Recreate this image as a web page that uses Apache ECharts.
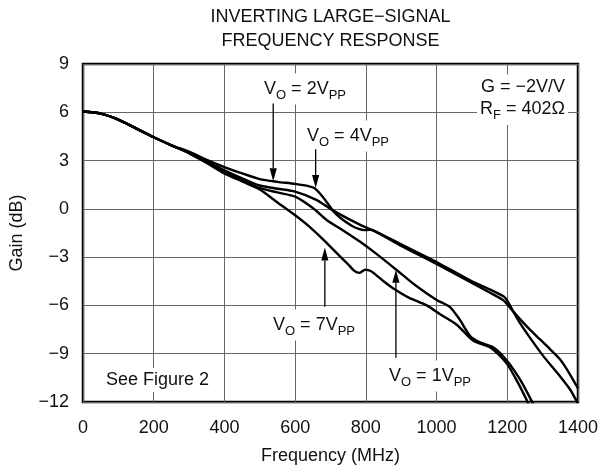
<!DOCTYPE html>
<html><head><meta charset="utf-8">
<script src="https://cdn.jsdelivr.net/npm/echarts@6/dist/echarts.min.js"></script>
<style>html,body{margin:0;padding:0;background:#fff}#c{width:610px;height:468px}</style>
</head><body><div id="c"></div>
<script>
// ---- data ----
const xTicks = [0, 200, 400, 600, 800, 1000, 1200, 1400];
const yTicks = [-12, -9, -6, -3, 0, 3, 6, 9];

const freq2 = [0,50,100,150,200,250,300,350,400,450,500,550,600,640,655,670,690,710,730,760,780,795,810,825,900,1000,1100,1150,1190,1210,1236,1264,1292,1320,1349,1375,1400];
const gain2 = [6.05,5.92,5.55,5.0,4.45,3.95,3.55,3.05,2.6,2.2,1.85,1.68,1.55,1.4,1.28,0.95,0.4,-0.2,-0.6,-1.05,-1.25,-1.32,-1.3,-1.38,-2.3,-3.42,-4.6,-5.2,-5.7,-6.2,-6.85,-7.5,-8.1,-8.7,-9.35,-10.2,-11.15];

const freq4 = [0,50,100,150,200,250,300,350,400,450,500,550,600,660,700,740,780,800,825,900,1000,1100,1150,1190,1200,1215,1236,1264,1302,1349,1380,1400];
const gain4 = [6.05,5.92,5.55,5.0,4.45,3.95,3.5,2.95,2.4,1.9,1.45,1.25,1.07,0.56,0.0,-0.5,-0.95,-1.15,-1.38,-2.2,-3.3,-4.5,-5.0,-5.45,-5.7,-6.3,-7.1,-8.0,-9.15,-10.4,-11.3,-12.1];

const freq1 = [0,50,100,150,200,250,300,350,400,450,500,550,600,650,689,740,783,830,887,940,1000,1038,1066,1095,1123,1160,1198,1236,1275];
const gain1 = [6.05,5.92,5.55,5.0,4.45,3.95,3.48,2.9,2.3,1.8,1.3,1.02,0.76,0.05,-0.69,-1.4,-2.03,-2.8,-3.8,-4.75,-5.66,-6.1,-6.9,-7.9,-8.3,-8.6,-9.4,-10.6,-12.2];

const freq7 = [0,50,100,150,200,250,300,350,400,450,500,550,600,640,684,720,750,767,782,798,815,850,878,920,972,1010,1057,1104,1151,1198,1230,1262];
const gain7 = [6.05,5.92,5.55,5.0,4.45,3.95,3.45,2.85,2.2,1.7,1.2,0.4,-0.4,-1.1,-2.0,-2.8,-3.45,-3.85,-3.98,-3.78,-3.88,-4.5,-4.95,-5.5,-6.0,-6.55,-7.2,-8.2,-8.6,-9.6,-10.8,-12.2];

// annotation arrows: [freq, gainFrom, gainTip]
const arrow2 = [538, 6.55, 1.72];
const arrow4 = [658, 3.70, 1.30];
const arrow7 = [684, -6.08, -2.40];
const arrow1 = [885, -9.25, -3.78];

// ---- chart ----
const FONT = '"Liberation Sans", Arial, Helvetica, sans-serif';
const INK = '#111';
const minus = v => (v < 0 ? '\u2212' + Math.abs(v) : String(v));
const pairs = (f, g) => f.map((x, i) => [x, g[i]]);

function curve(name, f, g) {
  return {
    name, type: 'line', data: pairs(f, g), showSymbol: false, symbol: 'none',
    smooth: 0.25, silent: true, clip: true,
    lineStyle: { color: '#000', width: 2.4 }
  };
}

const chart = echarts.init(document.getElementById('c'), null, { renderer: 'canvas' });

const rich = {
  n: { fontSize: 18, fontFamily: FONT, fill: INK },
  s: { fontSize: 13, fontFamily: FONT, fill: INK, padding: [12, 0, 0, 0] }
};
function vLabel(x, y, txt) {
  return { type: 'text', x, y, z: 10, silent: true,
    style: { text: txt, rich, align: 'left', verticalAlign: 'middle',
             backgroundColor: '#fff', padding: [3, 3, 3, 3] } };
}
function plain(x, y, txt, align, opts) {
  return Object.assign({ type: 'text', x, y, z: 10, silent: true,
    style: Object.assign({ text: txt, fontSize: 18, fontFamily: FONT, fill: INK,
      align: align, verticalAlign: 'middle' }, (opts || {}).style || {}) }, (opts || {}).el || {});
}

const option = {
  animation: false,
  backgroundColor: '#fff',
  grid: { left: 83, right: 32, top: 64, bottom: 66, show: true,
          borderColor: '#000', borderWidth: 2.5, backgroundColor: 'transparent' },
  xAxis: {
    type: 'value', min: xTicks[0], max: xTicks[xTicks.length - 1], interval: 200,
    axisLine: { show: false }, axisTick: { show: false },
    splitLine: { show: true, lineStyle: { color: '#666', width: 1 } },
    axisLabel: { fontSize: 18, fontFamily: FONT, color: INK, margin: 17, formatter: minus }
  },
  yAxis: {
    type: 'value', min: yTicks[0], max: yTicks[yTicks.length - 1], interval: 3,
    axisLine: { show: false }, axisTick: { show: false },
    splitLine: { show: true, lineStyle: { color: '#666', width: 1 } },
    axisLabel: { fontSize: 18, fontFamily: FONT, color: INK, margin: 14, formatter: minus }
  },
  series: [
    curve('VO = 2VPP', freq2, gain2),
    curve('VO = 4VPP', freq4, gain4),
    curve('VO = 1VPP', freq1, gain1),
    curve('VO = 7VPP', freq7, gain7)
  ],
  graphic: [
    plain(330.5, 17, 'INVERTING LARGE\u2212SIGNAL', 'center'),
    plain(330.5, 41, 'FREQUENCY RESPONSE', 'center'),
    plain(330.5, 456, 'Frequency (MHz)', 'center'),
    plain(17, 233, 'Gain (dB)', 'center', { el: { rotation: Math.PI / 2 } }),
    vLabel(261, 89, '{n|V}{s|O}{n| = 2V}{s|PP}'),
    vLabel(304, 136, '{n|V}{s|O}{n| = 4V}{s|PP}'),
    vLabel(270, 325, '{n|V}{s|O}{n| = 7V}{s|PP}'),
    vLabel(386, 376, '{n|V}{s|O}{n| = 1V}{s|PP}'),
    plain(103, 380, 'See Figure 2', 'left', { style: { backgroundColor: '#fff', padding: [3, 3, 3, 3] } }),
    plain(568, 87.5, 'G = \u22122V/V', 'right', { style: { backgroundColor: '#fff', padding: [6, 3, 2, 3] } }),
    { type: 'text', x: 568, y: 110, z: 10, silent: true,
      style: { text: '{n|R}{s|F}{n| = 402\u03A9}', rich, align: 'right', verticalAlign: 'middle',
               backgroundColor: '#fff', padding: [2, 3, 3, 3] } }
  ]
};
chart.setOption(option);

// arrows from data coordinates
function arrowEls(a, id) {
  const p0 = chart.convertToPixel({ gridIndex: 0 }, [a[0], a[1]]);
  const p1 = chart.convertToPixel({ gridIndex: 0 }, [a[0], a[2]]);
  const dir = p1[1] > p0[1] ? 1 : -1;
  const headLen = 13, halfW = 3.6;
  const base = p1[1] - dir * headLen;
  return [
    { type: 'line', id: id + 'l', z: 11, silent: true,
      shape: { x1: p0[0], y1: p0[1], x2: p1[0], y2: base },
      style: { stroke: '#000', lineWidth: 1.3 } },
    { type: 'polygon', id: id + 'h', z: 11, silent: true,
      shape: { points: [[p1[0], p1[1]], [p1[0] - halfW, base], [p1[0] + halfW, base]] },
      style: { fill: '#000' } }
  ];
}
const extra = [].concat(arrowEls(arrow2, 'a2'), arrowEls(arrow4, 'a4'),
                        arrowEls(arrow7, 'a7'), arrowEls(arrow1, 'a1'));
chart.setOption({ graphic: option.graphic.concat(extra) });
</script></body></html>
